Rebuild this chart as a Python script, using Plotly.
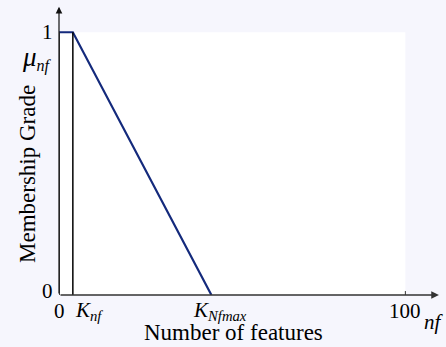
import plotly.graph_objects as go

# ---- data ----
x_points = [0, 4, 44]          # number of features
membership = [1, 1, 0]         # membership grade
k_nf = 4
k_nfmax = 44
x_tick_vals = [0, 100]
x_tick_text = ["0", "100"]
y_tick_vals = [0, 1]
y_tick_text = ["0", "1"]

FONT = "Liberation Serif, Times New Roman, serif"
X_MAX = 110
Y_MAX = 1.1
TINT = "#f6f6fd"
PLOT_H = 289  # px height of plotting area
PLOT_W = 381

fig = go.Figure()
fig.add_trace(go.Scatter(x=x_points, y=membership, mode="lines",
                         line=dict(color="#142a7c", width=2.2),
                         hoverinfo="skip", showlegend=False))

shapes = [
    dict(type="rect", xref="x", yref="y", x0=0, x1=100, y0=0, y1=1,
         fillcolor="white", line=dict(width=0), layer="below"),
    dict(type="line", xref="x", yref="y", x0=k_nf, x1=k_nf, y0=-0.015, y1=1,
         line=dict(color="black", width=1.5)),
    dict(type="line", xref="x", yref="y", x0=0, x1=0, y0=0, y1=1,
         line=dict(color="#444444", width=2)),
    dict(type="line", xref="x", yref="y", x0=100, x1=100, y0=0, y1=0.015,
         line=dict(color="#333333", width=1)),
]

ann = []
ann.append(dict(x=X_MAX - 0.3, y=0, ax=0, ay=0, xref="x", yref="y", axref="x", ayref="y",
                text="", showarrow=True, arrowhead=2, arrowsize=1.1, arrowwidth=1.4,
                arrowcolor="#333333", standoff=0))
ann.append(dict(x=0, y=Y_MAX - 0.003, ax=0, ay=0, xref="x", yref="y", axref="x", ayref="y",
                text="", showarrow=True, arrowhead=2, arrowsize=1.1, arrowwidth=1.2,
                arrowcolor="#111111", standoff=0))

tf = dict(family=FONT, size=21, color="black")
lf = dict(family=FONT, size=23, color="black")
for v, t in zip(x_tick_vals, x_tick_text):
    ann.append(dict(x=v, y=0, xref="x", yref="y", text=t, showarrow=False,
                    xanchor="center", yanchor="top", yshift=-2, font=tf))
for v, t in zip(y_tick_vals, y_tick_text):
    ann.append(dict(x=0, y=v, xref="x", yref="y", text=t, showarrow=False,
                    xanchor="right", yanchor="middle", xshift=-4,
                    yshift=(4 if v == 0 else 0), font=tf))

ann.append(dict(x=0, y=0.9, xref="x", yref="y",
                text="<i><span style='font-size:27px'>μ</span><sub>nf</sub></i>",
                showarrow=False, xanchor="right", yanchor="middle", xshift=-5,
                font=dict(family=FONT, size=23, color="black")))
ann.append(dict(x=k_nf, y=0, xref="x", yref="y", text="<i>K<sub>nf</sub></i>",
                showarrow=False, xanchor="left", yanchor="top", xshift=0, yshift=-1, font=tf))
ann.append(dict(x=k_nfmax, y=0, xref="x", yref="y", text="<i>K<sub>Nfmax</sub></i>",
                showarrow=False, xanchor="left", yanchor="top", xshift=-20, yshift=-1, font=tf))
ann.append(dict(x=X_MAX, y=0, xref="x", yref="y", text="<i>nf</i>",
                showarrow=False, xanchor="center", yanchor="middle", xshift=-6, yshift=-27, font=tf))
ann.append(dict(x=(233 - 59) / PLOT_W, y=-52 / PLOT_H, xref="paper", yref="paper",
                text="Number of features", showarrow=False,
                xanchor="center", yanchor="bottom", font=lf))
ann.append(dict(x=(27.5 - 59) / PLOT_W, y=(295 - 174.5) / PLOT_H, xref="paper", yref="paper",
                text="Membership Grade", textangle=-90, showarrow=False,
                xanchor="center", yanchor="middle", font=lf))

fig.update_layout(
    width=446, height=347,
    margin=dict(l=59, r=6, t=6, b=52),
    paper_bgcolor=TINT, plot_bgcolor=TINT,
    xaxis=dict(range=[0, X_MAX], visible=False, fixedrange=True),
    yaxis=dict(range=[0, Y_MAX], visible=False, fixedrange=True),
    shapes=shapes, annotations=ann,
)
fig.write_html("out.html", config={"displayModeBar": False},
               post_script="document.body.style.margin='0';document.body.style.overflow='hidden';")
